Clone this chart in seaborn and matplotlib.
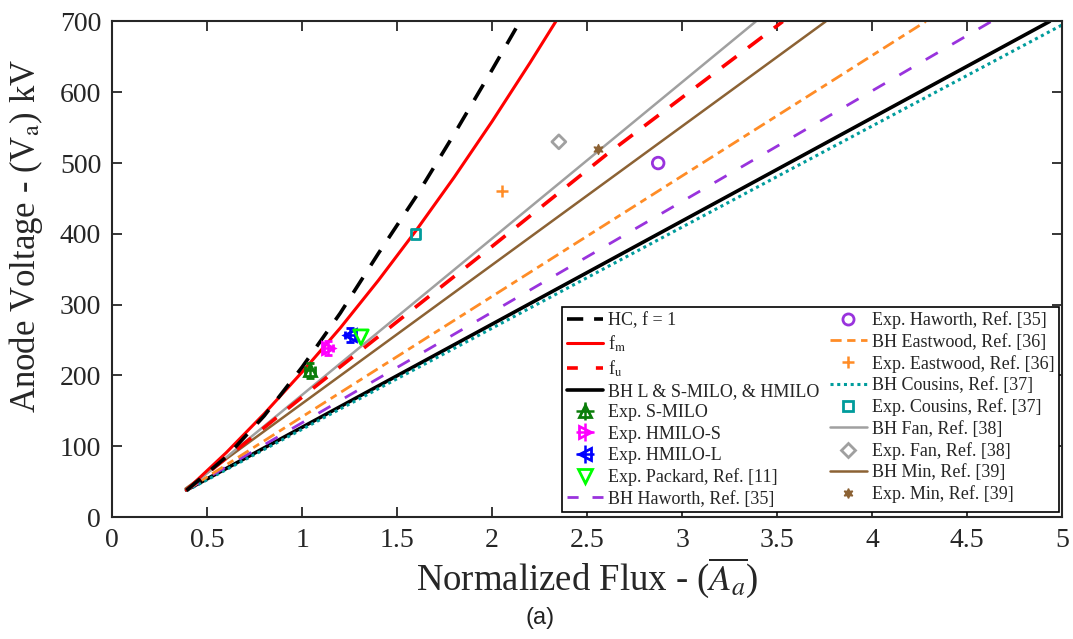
import numpy as np
import pandas as pd
import matplotlib
matplotlib.use("Agg")
import matplotlib.pyplot as plt
import seaborn as sns
from matplotlib.lines import Line2D

# ---------------- data ----------------
hc_x = [0.39, 0.6, 0.8, 1.0, 1.2, 1.4, 1.6, 1.8, 2.0, 2.146]
hc_y = [37.5, 85, 143, 212, 288, 372, 453, 541, 632, 700]

fm_x = [0.39, 0.6, 0.8, 1.0, 1.2, 1.4, 1.6, 1.8, 2.0, 2.2, 2.335]
fm_y = [38, 91, 146, 205, 267, 334, 405, 480, 559, 642, 700]

fu_x = [0.39, 1.067, 1.961, 2.602, 3.53]
fu_y = [38, 184, 374, 512, 700]

bh_lines = {
    "BH L & S-MILO, & HMILO": ([0.39, 4.935], [38, 700]),
    "BH Haworth, Ref. [35]": ([0.39, 4.628], [38, 700]),
    "BH Eastwood, Ref. [36]": ([0.39, 4.283], [38, 700]),
    "BH Cousins, Ref. [37]": ([0.39, 5.0], [37, 695]),
    "BH Fan, Ref. [38]": ([0.39, 3.388], [38, 700]),
    "BH Min, Ref. [39]": ([0.385, 3.756], [40, 700]),
}

# experimental points
smilo = (1.041, 207)
hmilo_s = (1.137, 239)
hmilo_l = (1.251, 257)
packard = (1.309, 254)
haworth = (2.874, 500)
eastwood = (2.053, 460)
cousins = (1.598, 400)
fan = (2.351, 530)
mmin = (2.556, 520)

x_ticks = [0, 0.5, 1, 1.5, 2, 2.5, 3, 3.5, 4, 4.5, 5]
x_tick_labels = ["0", "0.5", "1", "1.5", "2", "2.5", "3", "3.5", "4", "4.5", "5"]
y_ticks = [0, 100, 200, 300, 400, 500, 600, 700]

# ---------------- style ----------------
sns.set_style("ticks")
plt.rcParams["font.family"] = ["Liberation Serif", "DejaVu Serif"]
plt.rcParams["mathtext.fontset"] = "stix"
plt.rcParams["axes.edgecolor"] = "#262626"

fig = plt.figure(figsize=(10.73, 6.39), dpi=100)
ax = fig.add_axes([0.1047, 0.1909, 0.8850, 0.7755])

C_PURPLE = "#9933DD"
C_ORANGE = "#FF8C26"
C_TEAL = "#009C9C"
C_GRAY = "#A0A0A0"
C_BROWN = "#8C6234"
C_DGREEN = "#0A7D0A"

def line(x, y, **kw):
    df = pd.DataFrame({"x": x, "y": y})
    sns.lineplot(data=df, x="x", y="y", ax=ax, sort=False, estimator=None,
                 legend=False, **kw)

# lines (draw order so that thin lines sit on top)
line(*bh_lines["BH L & S-MILO, & HMILO"], color="black", lw=2.6)
line(*bh_lines["BH Cousins, Ref. [37]"], color=C_TEAL, lw=2.2, linestyle=(0, (1, 1.2)))
line(*bh_lines["BH Haworth, Ref. [35]"], color=C_PURPLE, lw=2.0, linestyle=(0, (5, 6)))
line(*bh_lines["BH Eastwood, Ref. [36]"], color=C_ORANGE, lw=2.0, linestyle=(0, (4.5, 2, 2.5, 2)))
line(*bh_lines["BH Min, Ref. [39]"], color=C_BROWN, lw=1.8)
line(*bh_lines["BH Fan, Ref. [38]"], color=C_GRAY, lw=1.8)
line(fu_x, fu_y, color="red", lw=2.6, linestyle=(0, (5, 4)))
line(fm_x, fm_y, color="red", lw=2.2)
line(hc_x, hc_y, color="black", lw=2.6, linestyle=(0, (5, 4)))

# experimental markers with error bars
def ebar(pt, marker, color):
    ax.errorbar([pt[0]], [pt[1]], xerr=0.025, yerr=10, fmt=marker, ms=9,
                mfc="none", mec=color, mew=2, ecolor=color, elinewidth=1.8,
                capsize=3, capthick=1.8, zorder=5)

ebar(smilo, "^", C_DGREEN)
ebar(hmilo_s, ">", "#FF00FF")
ebar(hmilo_l, "<", "#0000FF")

def pts(pt, marker, color, filled=False, size=70, lw=1.8):
    df = pd.DataFrame({"x": [pt[0]], "y": [pt[1]]})
    if filled:
        sns.scatterplot(data=df, x="x", y="y", ax=ax, marker=marker, s=size,
                        color=color, edgecolor=color, linewidth=lw, legend=False, zorder=6)
    else:
        sns.scatterplot(data=df, x="x", y="y", ax=ax, marker=marker, s=size,
                        facecolor="none", edgecolor=color, linewidth=lw, legend=False, zorder=6)

pts(packard, "v", "#00FF00", size=110, lw=2)
pts(haworth, "o", C_PURPLE, size=70, lw=2)
pts(eastwood, "+", C_ORANGE, filled=True, size=70, lw=1.8)
pts(cousins, "s", C_TEAL, size=45, lw=2)
pts(fan, "D", C_GRAY, size=50, lw=2)
pts(mmin, (6, 1, 0), C_BROWN, filled=True, size=50, lw=1)

# ---------------- axes ----------------
ax.set_xlim(0, 5)
ax.set_ylim(0, 700)
ax.set_xticks(x_ticks)
ax.set_xticklabels(x_tick_labels)
ax.set_yticks(y_ticks)
ax.tick_params(direction="in", length=7, width=1.3, labelsize=20,
               top=True, right=True, colors="#262626", labelcolor="#262626", pad=8)
for s in ax.spines.values():
    s.set_linewidth(1.5)
    s.set_visible(True)
ax.set_xlabel(r"Normalized Flux - ($\overline{A_a}$)", fontsize=26.5, color="#262626", labelpad=2)
ax.set_ylabel(r"Anode Voltage - (V$_{\rm a}$) kV", fontsize=25, color="#262626")
ax.yaxis.set_label_coords(-0.071, 0.567)

# ---------------- legend ----------------
def eh(marker, color):
    return ax.errorbar([], [], xerr=[], yerr=[], fmt=marker, ms=9, mfc="none",
                       mec=color, mew=2, ecolor=color, elinewidth=1.8, capsize=3)

handles = [
    Line2D([], [], color="black", lw=2.6, linestyle=(0, (4.5, 3))),
    Line2D([], [], color="red", lw=2.2),
    Line2D([], [], color="red", lw=2.6, linestyle=(0, (3, 5))),
    Line2D([], [], color="black", lw=2.6),
    eh("^", C_DGREEN),
    eh(">", "#FF00FF"),
    eh("<", "#0000FF"),
    Line2D([], [], color="#00FF00", marker="v", ms=10, mfc="none", mew=2, linestyle="none"),
    Line2D([], [], color=C_PURPLE, lw=2.0, linestyle=(0, (4, 5))),
    Line2D([], [], color=C_PURPLE, marker="o", ms=8, mfc="none", mew=2, linestyle="none"),
    Line2D([], [], color=C_ORANGE, lw=2.0, linestyle=(0, (4, 2, 3, 2))),
    Line2D([], [], color=C_ORANGE, marker="+", ms=8, mew=1.8, linestyle="none"),
    Line2D([], [], color=C_TEAL, lw=2.2, linestyle=(0, (1, 1.2))),
    Line2D([], [], color=C_TEAL, marker="s", ms=6.5, mfc="none", mew=2, linestyle="none"),
    Line2D([], [], color=C_GRAY, lw=1.8),
    Line2D([], [], color=C_GRAY, marker="D", ms=7, mfc="none", mew=2, linestyle="none"),
    Line2D([], [], color=C_BROWN, lw=1.8),
    Line2D([], [], color=C_BROWN, marker=(6, 1, 0), ms=7, linestyle="none"),
]
labels = [
    "HC, f = 1", r"f$_{\rm m}$", r"f$_{\rm u}$", "BH L & S-MILO, & HMILO",
    "Exp. S-MILO", "Exp. HMILO-S", "Exp. HMILO-L", "Exp. Packard, Ref. [11]",
    "BH Haworth, Ref. [35]",
    "Exp. Haworth, Ref. [35]", "BH Eastwood, Ref. [36]", "Exp. Eastwood, Ref. [36]",
    "BH Cousins, Ref. [37]", "Exp. Cousins, Ref. [37]", "BH Fan, Ref. [38]",
    "Exp. Fan, Ref. [38]", "BH Min, Ref. [39]", "Exp. Min, Ref. [39]",
]
leg = ax.legend(handles, labels, ncol=2, loc="lower right", fontsize=13,
                frameon=True, fancybox=False, edgecolor="black", framealpha=1,
                borderpad=0.25, labelspacing=0.24, handlelength=2.0,
                handletextpad=0.3, columnspacing=0.6, borderaxespad=0,
                bbox_to_anchor=(0.997, 0.01))
leg.get_frame().set_linewidth(1.2)

fig.text(0.503, 0.033, "(a)", fontsize=17, family=["Liberation Sans", "DejaVu Sans"],
         ha="center", va="center", color="#222222")

fig.savefig("out.png", dpi=100)
